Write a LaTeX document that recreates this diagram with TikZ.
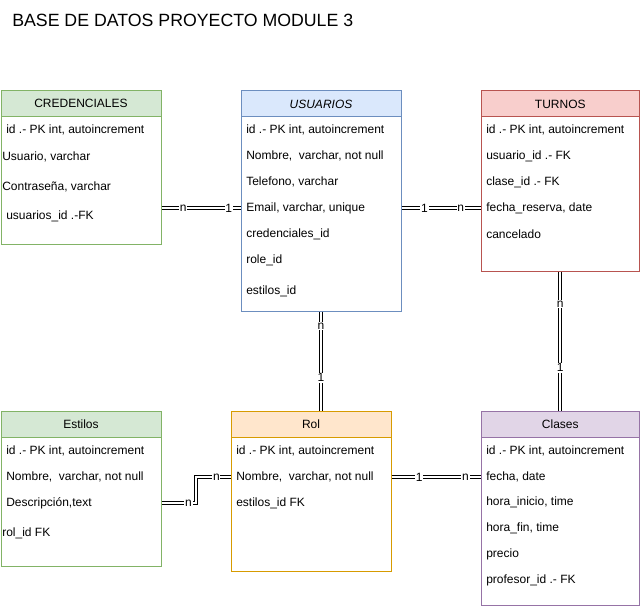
\documentclass[tikz,border=0pt]{standalone}
\usepackage{fontspec}
\setmainfont{Liberation Sans}
\definecolor{gfill}{HTML}{D5E8D4}\definecolor{gline}{HTML}{82B366}
\definecolor{bfill}{HTML}{DAE8FC}\definecolor{bline}{HTML}{6C8EBF}
\definecolor{rfill}{HTML}{F8CECC}\definecolor{rline}{HTML}{B85450}
\definecolor{ofill}{HTML}{FFE6CC}\definecolor{oline}{HTML}{D79B00}
\definecolor{pfill}{HTML}{E1D5E7}\definecolor{pline}{HTML}{9673A6}
\begin{document}
\begin{tikzpicture}[x=0.75pt,y=-0.75pt,
  tbl/.style={draw=#1, line width=0.75pt, minimum width=120pt, anchor=north west, inner sep=0, fill=white},
  hdr/.style n args={2}{draw=#1, fill=#2, line width=0.75pt, minimum width=120pt, minimum height=19.5pt, anchor=north west, inner sep=0, font=\fontsize{9pt}{11pt}\selectfont},
  narrow/.style={minimum width=118.9pt},
  row/.style={anchor=west, inner sep=0, font=\fontsize{9pt}{11pt}\selectfont},
  rel/.style={draw=black, double=white, double distance=1.7pt, line width=0.75pt},
  lbl/.style={fill=white, inner sep=0.6pt, font=\fontsize{9pt}{11pt}\selectfont}]
\useasboundingbox (0,0) rectangle (641,606);
\node[anchor=west, inner sep=0, font=\fontsize{13.3pt}{16pt}\selectfont] (title) at (12,20) {BASE DE DATOS PROYECTO MODULE 3};

% CREDENCIALES
\node[tbl=gline, minimum height=115.5pt] (cred) at (0.5,90) {};
\node[hdr={gline}{gfill}] (credh) at (0.5,90) {CREDENCIALES};
\node[row] (c1) at (6,130) {id .- PK int, autoincrement};
\node[row] (c2) at (2,157) {Usuario, varchar};
\node[row] (c3) at (2,187) {Contraseña, varchar};
\node[row] (c4) at (6,216) {usuarios\_id .-FK};

% USUARIOS
\node[tbl=bline, minimum height=165pt] (usr) at (240.5,90.5) {};
\node[hdr={bline}{bfill}] (usrh) at (240.5,90.5) {\itshape USUARIOS};
\node[row] (u1) at (246,130) {id .- PK int, autoincrement};
\node[row] (u2) at (246,156) {Nombre,\ \ varchar, not null};
\node[row] (u3) at (246,182) {Telefono, varchar};
\node[row] (u4) at (246,208) {Email, varchar, unique};
\node[row] (u5) at (246,234) {credenciales\_id};
\node[row] (u6) at (246,260) {role\_id};
\node[row] (u7) at (246,291) {estilos\_id};

% TURNOS
\node[tbl=rline, narrow, minimum height=135pt] (tur) at (480.5,90.5) {};
\node[hdr={rline}{rfill}, narrow] (turh) at (480.5,90.5) {TURNOS};
\node[row] (t1) at (486,130) {id .- PK int, autoincrement};
\node[row] (t2) at (486,156) {usuario\_id .- FK};
\node[row] (t3) at (486,182) {clase\_id .- FK};
\node[row] (t4) at (486,208) {fecha\_reserva, date};
\node[row] (t5) at (486,234) {cancelado};

% Estilos
\node[tbl=gline, minimum height=116.25pt] (est) at (0.5,410.5) {};
\node[hdr={gline}{gfill}] (esth) at (0.5,410.5) {Estilos};
\node[row] (e1) at (6,451) {id .- PK int, autoincrement};
\node[row] (e2) at (6,477) {Nombre,\ \ varchar, not null};
\node[row] (e3) at (6,503) {Descripción,text};
\node[row] (e4) at (2,533) {rol\_id FK};

% Rol
\node[tbl=oline, minimum height=120pt] (rol) at (230.5,410.5) {};
\node[hdr={oline}{ofill}] (rolh) at (230.5,410.5) {Rol};
\node[row] (r1) at (236,451) {id .- PK int, autoincrement};
\node[row] (r2) at (236,477) {Nombre,\ \ varchar, not null};
\node[row] (r3) at (236,503) {estilos\_id FK};

% Clases
\node[tbl=pline, narrow, minimum height=145.5pt] (cla) at (480.5,410.5) {};
\node[hdr={pline}{pfill}, narrow] (clah) at (480.5,410.5) {Clases};
\node[row] (k1) at (486,451) {id .- PK int, autoincrement};
\node[row] (k2) at (486,477) {fecha, date};
\node[row] (k3) at (486,502) {hora\_inicio, time};
\node[row] (k4) at (486,528) {hora\_fin, time};
\node[row] (k5) at (486,554) {precio};
\node[row] (k6) at (486,580) {profesor\_id .- FK};

% connectors
\draw[rel] (cred.east |- u4) -- node[lbl, pos=0.275] {n} node[lbl, pos=0.85] {1} (usr.west |- u4);
\draw[rel] (usr.east |- u4) -- node[lbl, pos=0.29] {1} node[lbl, pos=0.75] {n} (tur.west |- u4);
\coordinate (vx) at (321,0);
\draw[rel] (usr.south -| vx) -- node[lbl, pos=0.15] {n} node[lbl, pos=0.67] {1} (rol.north -| vx);
\draw[rel] (tur.south) -- node[lbl, pos=0.236] {n} node[lbl, pos=0.693] {1} (cla.north);
\draw[rel] (rol.east |- r2) -- node[lbl, pos=0.31] {1} node[lbl, pos=0.83] {n} (cla.west |- r2);
\coordinate (bend) at (196,0);
\draw[rel] (est.east |- e3) -- node[lbl, pos=0.78] {n} (bend |- e3) -- (bend |- r2) -- node[lbl, pos=0.59] {n} (rol.west |- r2);
\end{tikzpicture}
\end{document}
